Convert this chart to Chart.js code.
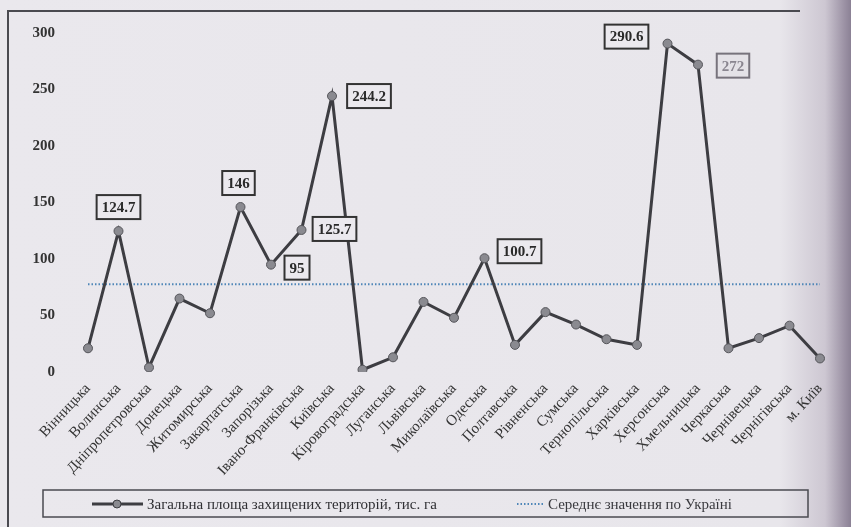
<!DOCTYPE html>
<html>
<head>
<meta charset="utf-8">
<script src="https://cdn.jsdelivr.net/npm/chart.js@4"></script>
<style>
  html, body { margin: 0; padding: 0; }
  body {
    width: 851px; height: 527px; overflow: hidden;
    background: linear-gradient(to right, #eae8ed 0px, #e8e6eb 780px, #cdc7d2 825px, #9a90a3 845px, #8b8195 851px);
  }
  #wrap { position: relative; width: 851px; height: 527px; }
</style>
</head>
<body>
<div id="wrap"><canvas id="chart" width="851" height="527"></canvas></div>
<script>
// Regions (alphabetical) and protected area, thousand ha
const regions = [
    'Вінницька', 'Волинська', 'Дніпропетровська', 'Донецька', 'Житомирська',
    'Закарпатська', 'Запорізька', 'Івано-Франківська', 'Київська', 'Кіровоградська',
    'Луганська', 'Львівська', 'Миколаївська', 'Одеська', 'Полтавська',
    'Рівненська', 'Сумська', 'Тернопільська', 'Харківська', 'Херсонська',
    'Хмельницька', 'Черкаська', 'Чернівецька', 'Чернігівська', 'м. Київ'
];
const protectedArea = [
    21, 124.7, 4, 65, 52,
    146, 95, 125.7, 244.2, 2,
    13, 62, 48, 100.7, 24,
    53, 42, 29, 24, 290.6,
    272, 21, 30, 41, 12
];
const averageValue = 77.7;
const yTicks = [0, 50, 100, 150, 200, 250, 300];

// which points get a boxed value label
const labelledPoints = [1, 5, 6, 7, 8, 13, 19, 20];

const SERIF = '"Liberation Serif", "DejaVu Serif", serif';

// box offsets from the point, [dx, dy]
const labelOffset = {
    1: [0, -24], 5: [-2, -24], 6: [26, 3], 7: [33, -1],
    8: [37, 0], 13: [35, -7], 19: [-41, -7], 20: [35, 1]
};

/**
 * Boxed data labels
 */
const boxLabels = {
    id: 'boxLabels',
    afterDatasetsDraw(chart) {
        const ctx = chart.ctx;
        const meta = chart.getDatasetMeta(0);
        ctx.save();
        ctx.font = 'bold 15px ' + SERIF;
        ctx.textAlign = 'center';
        ctx.textBaseline = 'middle';
        labelledPoints.forEach(i => {
            const pt = meta.data[i];
            const off = labelOffset[i] || [0, -24];
            const text = String(protectedArea[i]);
            const w = ctx.measureText(text).width + 10;
            const h = 24;
            const cx = pt.x + off[0];
            const cy = pt.y + off[1];
            ctx.fillStyle = i === 20 ? '#e4e2e7' : '#ebe9ee';
            ctx.fillRect(cx - w / 2, cy - h / 2, w, h);
            ctx.lineWidth = 2;
            ctx.strokeStyle = i === 20 ? '#77737c' : '#333';
            ctx.strokeRect(cx - w / 2, cy - h / 2, w, h);
            ctx.fillStyle = i === 20 ? '#8a8690' : '#2a2a2a';
            ctx.fillText(text, cx, cy + 1);
        });
        ctx.restore();
    }
};

/**
 * Frame and boxed legend at the bottom
 */
const frameLegend = {
    id: 'frameLegend',
    afterDraw(chart) {
        const ctx = chart.ctx;
        ctx.save();
        // page frame
        ctx.strokeStyle = '#4a4a50';
        ctx.lineWidth = 2;
        ctx.beginPath();
        ctx.moveTo(8, 527);
        ctx.lineTo(8, 11);
        ctx.lineTo(800, 11);
        ctx.stroke();

        // legend box
        ctx.lineWidth = 1.5;
        ctx.strokeStyle = '#4a4a50';
        ctx.strokeRect(43, 490, 765, 27);

        const y = 504;
        ctx.strokeStyle = '#3d3d42';
        ctx.lineWidth = 3;
        ctx.beginPath();
        ctx.moveTo(92, y);
        ctx.lineTo(143, y);
        ctx.stroke();
        ctx.beginPath();
        ctx.arc(117, y, 4, 0, Math.PI * 2);
        ctx.fillStyle = '#8a8a90';
        ctx.fill();
        ctx.lineWidth = 1;
        ctx.stroke();

        ctx.fillStyle = '#2f2f33';
        ctx.font = '15px ' + SERIF;
        ctx.textBaseline = 'middle';
        ctx.fillText(chart.data.datasets[0].label, 147, y + 1);

        ctx.strokeStyle = '#4f86b8';
        ctx.lineWidth = 2;
        ctx.setLineDash([1.5, 2]);
        ctx.beginPath();
        ctx.moveTo(517, y);
        ctx.lineTo(543, y);
        ctx.stroke();
        ctx.setLineDash([]);
        ctx.fillStyle = '#3a3a3f';
        ctx.fillText(chart.data.datasets[1].label, 548, y + 1);
        ctx.restore();
    }
};

document.addEventListener('DOMContentLoaded', function() {
    const ctx = document.getElementById('chart').getContext('2d');

    new Chart(ctx, {
        type: 'line',
        data: {
            labels: regions,
            datasets: [{
                label: 'Загальна площа захищених територій, тис. га',
                data: protectedArea,
                borderColor: '#3d3d42',
                borderWidth: 3,
                pointRadius: 4.5,
                pointBackgroundColor: '#8a8a90',
                pointBorderColor: '#55555a',
                pointBorderWidth: 1,
                tension: 0,
                order: 1
            }, {
                label: 'Середнє значення по Україні',
                data: regions.map(() => averageValue),
                borderColor: '#4f86b8',
                borderWidth: 2,
                borderDash: [1.5, 2],
                pointRadius: 0,
                order: 2
            }]
        },
        options: {
            responsive: false,
            animation: false,
            layout: {
                padding: { left: 8, right: 31, top: 33, bottom: 37 }
            },
            plugins: {
                legend: { display: false },
                tooltip: { enabled: false }
            },
            scales: {
                x: {
                    offset: false,
                    grid: { display: false, drawTicks: false },
                    border: { display: false },
                    ticks: {
                        color: '#333',
                        font: { family: SERIF, size: 15 },
                        minRotation: 47,
                        maxRotation: 47,
                        padding: 8,
                        autoSkip: false
                    },
                    afterFit(scale) { scale.height = 118; }
                },
                y: {
                    min: 0,
                    max: 300,
                    afterBuildTicks(scale) {
                        scale.ticks = yTicks.map(v => ({ value: v }));
                    },
                    grid: { display: false, drawTicks: false },
                    border: { display: false },
                    ticks: {
                        color: '#333',
                        font: { family: SERIF, size: 15, weight: 'bold' },
                        padding: 33
                    },
                    afterFit(scale) {
                        scale.width = 80;
                        scale.paddingTop = 0;
                    }
                }
            }
        },
        plugins: [boxLabels, frameLegend]
    });
});
</script>
</body>
</html>
